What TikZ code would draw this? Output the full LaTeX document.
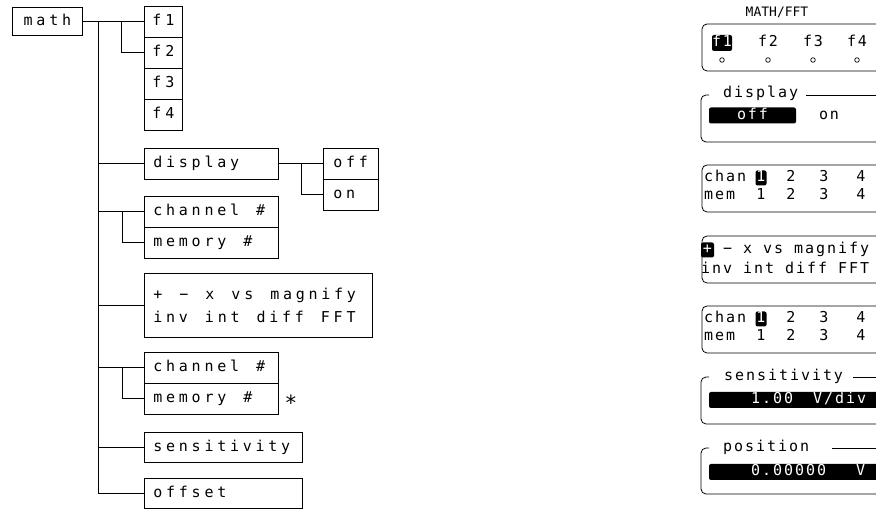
\documentclass[tikz,border=0pt]{standalone}
\usepackage{fontspec}
\newfontfamily\plotfnt[LetterSpace=25]{DejaVu Sans Mono}
\newfontfamily\lcdfnt[LetterSpace=13]{DejaVu Sans Mono}
\newfontfamily\lcdtitle{DejaVu Sans Mono}
\newcommand\tpfont{\plotfnt\fontsize{15}{17}\selectfont}
\newcommand\tlfont{\lcdfnt\fontsize{15}{17}\selectfont}
\newcommand\wsp{\hspace{17pt}}
\begin{document}
\begin{tikzpicture}[x=1pt,y=-1pt,
  ln/.style={line width=0.8pt},
  bx/.style={draw, line width=0.8pt, anchor=north west, inner xsep=9pt, inner ysep=0pt,
    font=\tpfont, align=left, text height=11pt, text depth=3.5pt},
  cbx/.style={bx, align=center, inner xsep=2pt},
  lcd/.style={font=\tlfont, inner sep=0pt, text height=10.5pt, text depth=3pt},
  hl/.style={lcd, fill=black, text=white, rounded corners=2pt},
  panel/.style={draw, line width=0.8pt, rounded corners=5pt},
  bar/.style={fill=black, rounded corners=2pt}
]
\fill[white] (0,0) rectangle (876,510);
\useasboundingbox (0,0) rectangle (876,510);

% ---------- left menu tree ----------
\node[cbx, text width=66pt, minimum height=28pt] (math) at (12,7.5) {math};
\node[cbx, text width=34pt, minimum height=31pt] (f1) at (144,6) {f1};
\node[cbx, text width=34pt, minimum height=31pt] (f2) at (144,37) {f2};
\node[cbx, text width=34pt, minimum height=31pt] (f3) at (144,68) {f3};
\node[cbx, text width=34pt, minimum height=31pt] (f4) at (144,99) {f4};
\node[bx, text width=116pt, minimum height=31pt] (disp) at (144,148) {display};
\node[bx, inner xsep=10pt, text width=35pt, minimum height=31pt] (off) at (323,148) {off};
\node[bx, inner xsep=10pt, text width=35pt, minimum height=31pt] (on) at (323,179) {on};
\node[bx, text width=116pt, minimum height=31pt] (ch1) at (144,196) {channel\wsp\#};
\node[bx, text width=116pt, minimum height=31pt] (mem1) at (144,227) {memory\wsp\#};
\node[bx, text width=210pt, minimum height=64pt, text height=, text depth=,
  execute at begin node={\setlength\baselineskip{23pt}}] (fn) at (144,273)
  {\mbox{+\wsp−\wsp x\wsp vs\wsp magnify}\\\mbox{inv\wsp int\wsp diff\wsp FFT}};
\node[bx, text width=116pt, minimum height=31pt] (ch2) at (144,352) {channel\wsp\#};
\node[bx, text width=116pt, minimum height=31pt] (mem2) at (144,383) {memory\wsp\#};
\node[font=\lcdtitle\fontsize{21}{21}\selectfont, inner sep=0pt, anchor=base] (star) at (291,411) {*};
\node[bx, text width=140pt, minimum height=30pt] (sens) at (144,432) {sensitivity};
\node[bx, text width=140pt, minimum height=30pt] (offs) at (144,478) {offset};

\coordinate (t0) at (98,21.5);
\coordinate (t1) at (121,21.5);
\coordinate (bxa) at (122,0);
\coordinate (bxb) at (301,0);
\draw[ln] (math.east) -- (f1.west);
\draw[ln] (t1) |- (f2.west);
\draw[ln] (t0) |- (offs.west);
\draw[ln] (t0 |- disp.west) -- (disp.west);
\draw[ln] (disp.east) -- (off.west);
\draw[ln] (bxb |- off.west) |- (on.west);
\draw[ln] (t0 |- ch1.west) -- (ch1.west);
\draw[ln] (bxa |- ch1.west) |- (mem1.west);
\draw[ln] (t0 |- fn.west) -- (fn.west);
\draw[ln] (t0 |- ch2.west) -- (ch2.west);
\draw[ln] (bxa |- ch2.west) |- (mem2.west);
\draw[ln] (t0 |- sens.west) -- (sens.west);

% ---------- right: front panel display ----------
\begin{scope}
\clip (0,0) rectangle (876,510);
\node[font=\lcdtitle\fontsize{13}{15}\selectfont, inner sep=0pt] (title) at (777,12) {MATH/FFT};
% f panel
\draw[panel] (702,24) rectangle (895,71);
\node[hl, minimum width=19pt, minimum height=16pt] (rf1) at (722,43) {f1};
\node[lcd] (rf2) at (768,43) {f2};
\node[lcd] (rf3) at (813,43) {f3};
\node[lcd] (rf4) at (857,43) {f4};
\foreach \x in {722,768,813,857} \draw[line width=0.7pt] (\x,60) circle (2.3);
% display panel
\draw[panel] (709,95) -- (701,95) -- (701,142) -- (895,142);
\draw[ln] (806,95) -- (895,95);
\node[lcd, anchor=base west] (rdisp) at (723,98) {display};
\node[hl, minimum width=87pt, minimum height=16pt] (roff) at (752.5,115.5) {off};
\node[lcd] (ron) at (829,115.5) {on};
% channel panel 1
\draw[panel] (702,165) rectangle (895,212);
\node[lcd, anchor=west] (c1a) at (704,178) {chan};
\node[hl, minimum width=11pt, minimum height=15pt] (c1b) at (761,178) {1};
\node[lcd] (c1c) at (791,178) {2};
\node[lcd] (c1d) at (824,178) {3};
\node[lcd] (c1e) at (861,178) {4};
\node[lcd, anchor=west] (m1a) at (704,196) {mem};
\node[lcd] (m1b) at (761,196) {1};
\node[lcd] (m1c) at (791,196) {2};
\node[lcd] (m1d) at (824,196) {3};
\node[lcd] (m1e) at (861,196) {4};
% function panel
\draw[panel] (702,236) rectangle (895,283);
\node[hl, minimum width=13pt, minimum height=15pt] (plus) at (707.5,250) {+};
\node[lcd, anchor=west] (fr1) at (723,250) {− x vs magnify};
\node[lcd, anchor=west] (fr2) at (701,270) {inv int diff FFT};
% channel panel 2
\draw[panel] (702,306) rectangle (895,353);
\node[lcd, anchor=west] (c2a) at (704,319) {chan};
\node[hl, minimum width=11pt, minimum height=15pt] (c2b) at (761,319) {1};
\node[lcd] (c2c) at (791,319) {2};
\node[lcd] (c2d) at (824,319) {3};
\node[lcd] (c2e) at (861,319) {4};
\node[lcd, anchor=west] (m2a) at (704,337) {mem};
\node[lcd] (m2b) at (761,337) {1};
\node[lcd] (m2c) at (791,337) {2};
\node[lcd] (m2d) at (824,337) {3};
\node[lcd] (m2e) at (861,337) {4};
% sensitivity panel
\draw[panel] (709,377) -- (701,377) -- (701,424) -- (895,424);
\draw[ln] (853,377) -- (895,377);
\node[lcd, anchor=base west] (rsens) at (724,381) {sensitivity};
\fill[bar] (709,392) rectangle (900,408);
\node[lcd, text=white, anchor=west] (sv1) at (751,400) {1.00};
\node[lcd, text=white, anchor=west] (sv2) at (813,400) {V/div};
% position panel
\draw[panel] (709,448) -- (701,448) -- (701,494) -- (895,494);
\draw[ln] (832,448) -- (895,448);
\node[lcd, anchor=base west] (rpos) at (723,452) {position};
\fill[bar] (709,464) rectangle (900,480);
\node[lcd, text=white, anchor=west] (pv1) at (751,472) {0.00000};
\node[lcd, text=white, anchor=west] (pv2) at (856,472) {V};
\end{scope}
\end{tikzpicture}
\end{document}
